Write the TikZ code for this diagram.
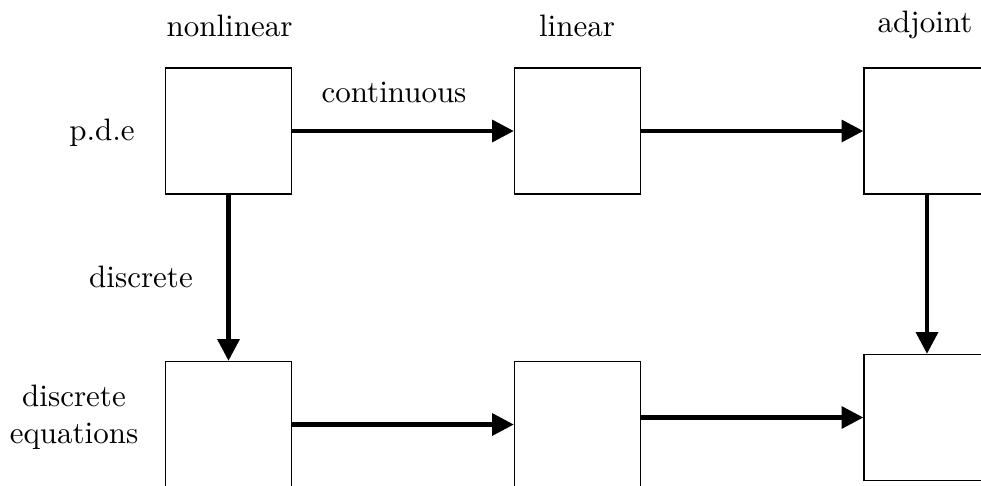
\documentclass[tikz,border=0pt]{standalone}
\usetikzlibrary{arrows.meta}
\begin{document}
\begin{tikzpicture}[x=0.3226pt, y=-0.3226pt,
  box/.style={draw, line width=0.45pt, minimum width=126*0.3226pt, minimum height=126*0.3226pt, inner sep=0pt},
  flow/.style={line width=1.35pt, -{Triangle[length=7pt,width=7pt]}},
  lbl/.style={font=\fontsize{10}{12}\selectfont, inner sep=0pt}]
\useasboundingbox (0,0) rectangle (981,485);
% column and row headings
\node[lbl, anchor=base] (hnonlin) at (229.5,36) {nonlinear};
\node[lbl, anchor=base] (hlin) at (577,36) {linear};
\node[lbl, anchor=base] (hadj) at (925,32) {adjoint};
\node[lbl, anchor=base] (hpde) at (102,140) {p.d.e};
\node[lbl, align=center] (hdisc) at (74,417) {discrete\\equations};
% boxes
\node[box] (a) at (228.5,131) {};
\node[box] (b) at (577.5,131) {};
\node[box] (c) at (927,131) {};
\node[box] (d) at (228.5,424.5) {};
\node[box] (e) at (577.5,424.5) {};
\node[box] (f) at (927,417.5) {};
% connectors
\draw[flow] (a) -- (b);
\draw[flow] (b) -- (c);
\draw[flow] (a) -- (d);
\draw[flow] (c) -- (f);
\draw[flow] (d) -- (e);
\draw[flow] (e.east |- f.west) -- (f.west);
% connector labels
\node[lbl, anchor=base] (lcont) at (394,102) {continuous};
\node[lbl, anchor=base] (ldisc) at (141,287) {discrete};
\end{tikzpicture}
\end{document}
